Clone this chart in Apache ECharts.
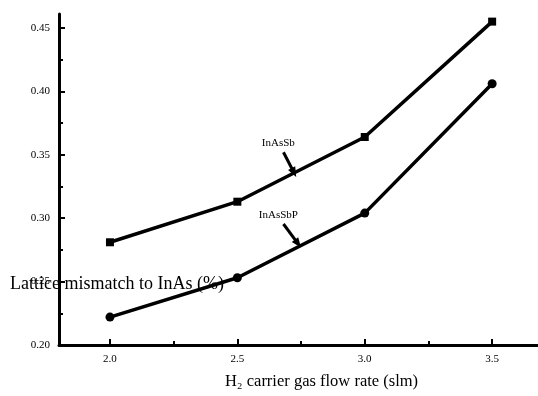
<!DOCTYPE html>
<html><head><meta charset="utf-8">
<script src="https://cdn.jsdelivr.net/npm/echarts@6/dist/echarts.min.js"></script>
<style>html,body{margin:0;padding:0;background:#fff}#c{width:538px;height:396px}</style>
</head><body><div id="c"></div>
<script>
const flowRates = [2.0, 2.5, 3.0, 3.5];
const inAsSb = [0.281, 0.313, 0.364, 0.455];
const inAsSbP = [0.222, 0.253, 0.304, 0.406];
const xMajorTicks = [2.0, 2.5, 3.0, 3.5];
const xMinorTicks = [2.25, 2.75, 3.25];
const yMajorTicks = [0.20, 0.25, 0.30, 0.35, 0.40, 0.45];
const yMinorTicks = [0.225, 0.275, 0.325, 0.375, 0.425];
const labelSb = { text: 'InAsSb', pos: [2.661, 0.359], arrow: [[2.681, 0.352], [2.722, 0.336]] };
const labelSbP = { text: 'InAsSbP', pos: [2.661, 0.3025], arrow: [[2.681, 0.2954], [2.738, 0.2800]] };

const serif = 'Liberation Serif';
const chart = echarts.init(document.getElementById('c'), null, { renderer: 'canvas' });
const pair = (xs, ys) => xs.map((x, i) => [x, ys[i]]);

function annot(l) {
  return {
    silent: true, symbol: ['none', 'triangle'], symbolSize: [8, 10],
    lineStyle: { color: '#000', width: 3, type: 'solid' },
    label: { show: false },
    data: [[{ coord: l.arrow[0] }, { coord: l.arrow[1] }]]
  };
}
function annotText(l) {
  return {
    silent: true, symbol: 'circle', symbolSize: 1,
    itemStyle: { color: 'rgba(0,0,0,0)' },
    label: { show: true, position: 'inside', formatter: l.text, color: '#000', fontFamily: serif, fontSize: 11 },
    data: [{ coord: l.pos, value: 0 }]
  };
}

chart.setOption({
  animation: false,
  backgroundColor: '#fff',
  grid: { left: 59, right: 0, top: 14, bottom: 51, containLabel: false, outerBoundsMode: 'none' },
  xAxis: [{
    type: 'value', min: 1.8, max: 3.68,
    axisLine: { show: true, onZero: false, lineStyle: { color: '#000', width: 3 } },
    axisTick: { show: true, inside: true, length: 6, customValues: xMajorTicks, lineStyle: { color: '#000', width: 2 } },
    axisLabel: { show: true, customValues: xMajorTicks, formatter: v => v.toFixed(1), color: '#000', fontFamily: serif, fontSize: 11, margin: 9 },
    splitLine: { show: false },
    name: 'H\u2082 carrier gas flow rate (slm)', nameLocation: 'middle', nameGap: 28,
    nameTextStyle: { color: '#000', fontFamily: serif, fontSize: 16.5, padding: [0, 0, 0, 46] }
  }, {
    type: 'value', min: 1.8, max: 3.68, position: 'bottom',
    axisLine: { show: false },
    axisTick: { show: true, inside: true, length: 4, customValues: xMinorTicks, lineStyle: { color: '#000', width: 2 } },
    axisLabel: { show: false }, splitLine: { show: false }
  }],
  yAxis: [{
    type: 'value', min: 0.2, max: 0.461,
    axisLine: { show: true, onZero: false, lineStyle: { color: '#000', width: 3 } },
    axisTick: { show: true, inside: true, length: 6, customValues: yMajorTicks, lineStyle: { color: '#000', width: 2 } },
    axisLabel: { show: true, customValues: yMajorTicks, formatter: v => v.toFixed(2), color: '#000', fontFamily: serif, fontSize: 11, margin: 9 },
    splitLine: { show: false }
  }, {
    type: 'value', min: 0.2, max: 0.461, position: 'left',
    axisLine: { show: false },
    axisTick: { show: true, inside: true, length: 4, customValues: yMinorTicks, lineStyle: { color: '#000', width: 2 } },
    axisLabel: { show: false }, splitLine: { show: false }
  }],
  graphic: [{
    type: 'text', left: 10, top: 275,
    style: { text: 'Lattice mismatch to InAs (%)', fill: '#000', font: '18px "Liberation Serif"' }
  }],
  series: [{
    type: 'line', name: 'InAsSb', data: pair(flowRates, inAsSb),
    symbol: 'rect', symbolSize: 8, showAllSymbol: true,
    itemStyle: { color: '#000' }, lineStyle: { color: '#000', width: 3.5 },
    markLine: annot(labelSb), markPoint: annotText(labelSb)
  }, {
    type: 'line', name: 'InAsSbP', data: pair(flowRates, inAsSbP),
    symbol: 'circle', symbolSize: 9, showAllSymbol: true,
    itemStyle: { color: '#000' }, lineStyle: { color: '#000', width: 3.5 },
    markLine: annot(labelSbP), markPoint: annotText(labelSbP)
  }]
});
</script></body></html>
